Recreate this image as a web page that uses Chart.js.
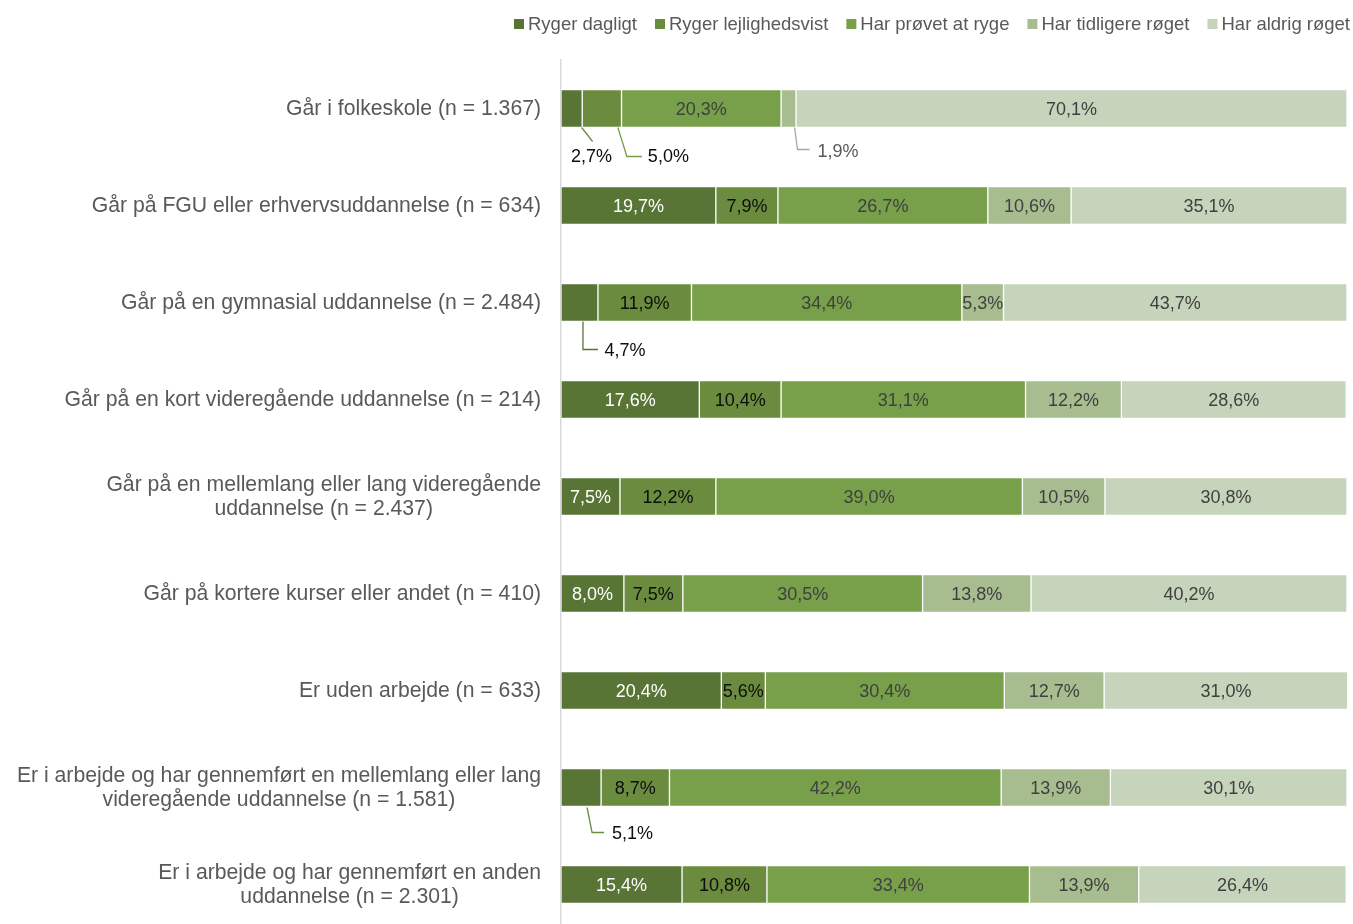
<!DOCTYPE html>
<html>
<head>
<meta charset="utf-8">
<script src="https://cdn.jsdelivr.net/npm/chart.js@4.4.0/dist/chart.umd.min.js"></script>
<style>
  html, body { margin: 0; padding: 0; background: #fff; overflow: hidden; }
  #wrap { width: 1353px; height: 924px; overflow: hidden; }
  #inner { width: 1353px; height: 934px; position: relative; }
</style>
</head>
<body>
<div id="wrap"><div id="inner"><canvas id="chart"></canvas></div></div>
<script>
// categories (multi-line labels as arrays)
const categories = [
    ['Går i folkeskole (n = 1.367)'],
    ['Går på FGU eller erhvervsuddannelse (n = 634)'],
    ['Går på en gymnasial uddannelse (n = 2.484)'],
    ['Går på en kort videregående uddannelse (n = 214)'],
    ['Går på en mellemlang eller lang videregående', 'uddannelse (n = 2.437)'],
    ['Går på kortere kurser eller andet (n = 410)'],
    ['Er uden arbejde (n = 633)'],
    ['Er i arbejde og har gennemført en mellemlang eller lang', 'videregående uddannelse (n = 1.581)'],
    ['Er i arbejde og har gennemført en anden', 'uddannelse (n = 2.301)']
];

const seriesNames = ['Ryger dagligt', 'Ryger lejlighedsvist', 'Har prøvet at ryge', 'Har tidligere røget', 'Har aldrig røget'];

const rygerDagligt = [2.7, 19.7, 4.7, 17.6, 7.5, 8.0, 20.4, 5.1, 15.4];
const rygerLejlighedsvist = [5.0, 7.9, 11.9, 10.4, 12.2, 7.5, 5.6, 8.7, 10.8];
const harProevet = [20.3, 26.7, 34.4, 31.1, 39.0, 30.5, 30.4, 42.2, 33.4];
const harTidligere = [1.9, 10.6, 5.3, 12.2, 10.5, 13.8, 12.7, 13.9, 13.9];
const harAldrig = [70.1, 35.1, 43.7, 28.6, 30.8, 40.2, 31.0, 30.1, 26.4];

const seriesValues = [rygerDagligt, rygerLejlighedsvist, harProevet, harTidligere, harAldrig];

const barColors = ['#587535', '#6b8c3f', '#789f49', '#a7bd90', '#c6d4bb'];
const labelColors = ['#ffffff', '#0d0d0d', '#404040', '#404040', '#404040'];
const FONT = '"Liberation Sans", Arial, sans-serif';

// small values whose labels sit below the bar with a leader line
const callouts = [
    {row: 0, ds: 0, from: [10, 19], to: [21, 33], tail: 0, text: [20, 48], align: 'center', line: '#6b8c3f', color: '#0d0d0d'},
    {row: 0, ds: 1, from: [16, 19], to: [25, 48], tail: 15, text: [46, 48], align: 'left', line: '#789f49', color: '#0d0d0d'},
    {row: 0, ds: 3, from: [6, 19], to: [9, 41], tail: 12, text: [29, 43], align: 'left', line: '#a6a6a6', color: '#595959'},
    {row: 2, ds: 0, from: [3.5, 19], to: [3.5, 47], tail: 15, text: [25, 48], align: 'left', line: '#587535', color: '#0d0d0d'},
    {row: 7, ds: 0, from: [6, 20], to: [11, 45], tail: 12, text: [31, 46], align: 'left', line: '#6b8c3f', color: '#0d0d0d'}
];

function fmt(v) {
    return v.toFixed(1).replace('.', ',') + '%';
}

const barLabels = {
    id: 'barLabels',
    afterDatasetsDraw(chart) {
        const ctx = chart.ctx;
        ctx.save();
        ctx.font = '18px ' + FONT;
        ctx.textBaseline = 'middle';
        chart.data.datasets.forEach((ds, di) => {
            chart.getDatasetMeta(di).data.forEach((bar, i) => {
                const cx = (bar.x + bar.base) / 2;
                const cy = bar.y;
                const txt = fmt(ds.data[i]);
                const co = callouts.find(c => c.row === i && c.ds === di);
                if (co) {
                    ctx.strokeStyle = co.line;
                    ctx.lineWidth = 1.3;
                    ctx.beginPath();
                    ctx.moveTo(cx + co.from[0], cy + co.from[1]);
                    ctx.lineTo(cx + co.to[0], cy + co.to[1]);
                    if (co.tail) ctx.lineTo(cx + co.to[0] + co.tail, cy + co.to[1]);
                    ctx.stroke();
                    ctx.fillStyle = co.color;
                    ctx.textAlign = co.align;
                    ctx.fillText(txt, cx + co.text[0], cy + co.text[1] + 1);
                } else {
                    ctx.fillStyle = labelColors[di];
                    ctx.textAlign = 'center';
                    ctx.fillText(txt, cx, cy + 1.5);
                }
            });
        });
        ctx.restore();
    }
};

// category labels: block right-aligned, lines centred inside the block
const categoryLabels = {
    id: 'categoryLabels',
    afterDraw(chart) {
        const ctx = chart.ctx;
        const y = chart.scales.y;
        ctx.save();
        ctx.font = '21.2px ' + FONT;
        ctx.fillStyle = '#595959';
        ctx.textBaseline = 'middle';
        ctx.textAlign = 'center';
        const right = chart.chartArea.left - 20;
        const lh = 24;
        categories.forEach((lines, i) => {
            const w = Math.max(...lines.map(l => ctx.measureText(l).width));
            const mid = right - w / 2;
            const py = y.getPixelForValue(i) + 1;
            const top = py - (lines.length - 1) * lh / 2;
            lines.forEach((l, k) => ctx.fillText(l, mid, top + k * lh));
        });
        ctx.restore();
    }
};

const topLegend = {
    id: 'topLegend',
    afterDraw(chart) {
        const ctx = chart.ctx;
        ctx.save();
        ctx.font = '18.5px ' + FONT;
        ctx.textBaseline = 'middle';
        ctx.textAlign = 'left';
        const box = 10, gap = 4, itemGap = 18, yc = 24;
        const widths = seriesNames.map(n => ctx.measureText(n).width);
        let total = widths.reduce((a, b) => a + b, 0) + seriesNames.length * (box + gap) + (seriesNames.length - 1) * itemGap;
        let x = 1350 - total;
        seriesNames.forEach((n, i) => {
            ctx.fillStyle = barColors[i];
            ctx.fillRect(x, yc - box / 2, box, box);
            x += box + gap;
            ctx.fillStyle = '#595959';
            ctx.fillText(n, x, yc + 0.5);
            x += widths[i] + itemGap;
        });
        ctx.restore();
    }
};

const chart = new Chart(
    document.getElementById('chart'),
    {
        type: 'bar',
        data: {
            labels: categories,
            datasets: seriesNames.map((name, i) => ({
                label: name,
                data: seriesValues[i],
                backgroundColor: barColors[i],
                borderColor: 'rgba(255,255,255,0.55)',
                borderWidth: 1,
                borderSkipped: false,
                barThickness: 38
            }))
        },
        options: {
            indexAxis: 'y',
            responsive: true,
            maintainAspectRatio: false,
            animation: false,
            layout: {
                padding: {top: 60, left: 561, right: 6, bottom: 1}
            },
            scales: {
                x: {
                    stacked: true,
                    min: 0,
                    max: 100,
                    display: false
                },
                y: {
                    stacked: true,
                    grid: {display: false, drawTicks: false},
                    ticks: {display: false},
                    border: {display: true, color: '#d9d9d9', width: 1.5}
                }
            },
            plugins: {
                legend: {display: false},
                tooltip: {enabled: false}
            }
        },
        plugins: [barLabels, categoryLabels, topLegend]
    }
);
</script>
</body>
</html>
